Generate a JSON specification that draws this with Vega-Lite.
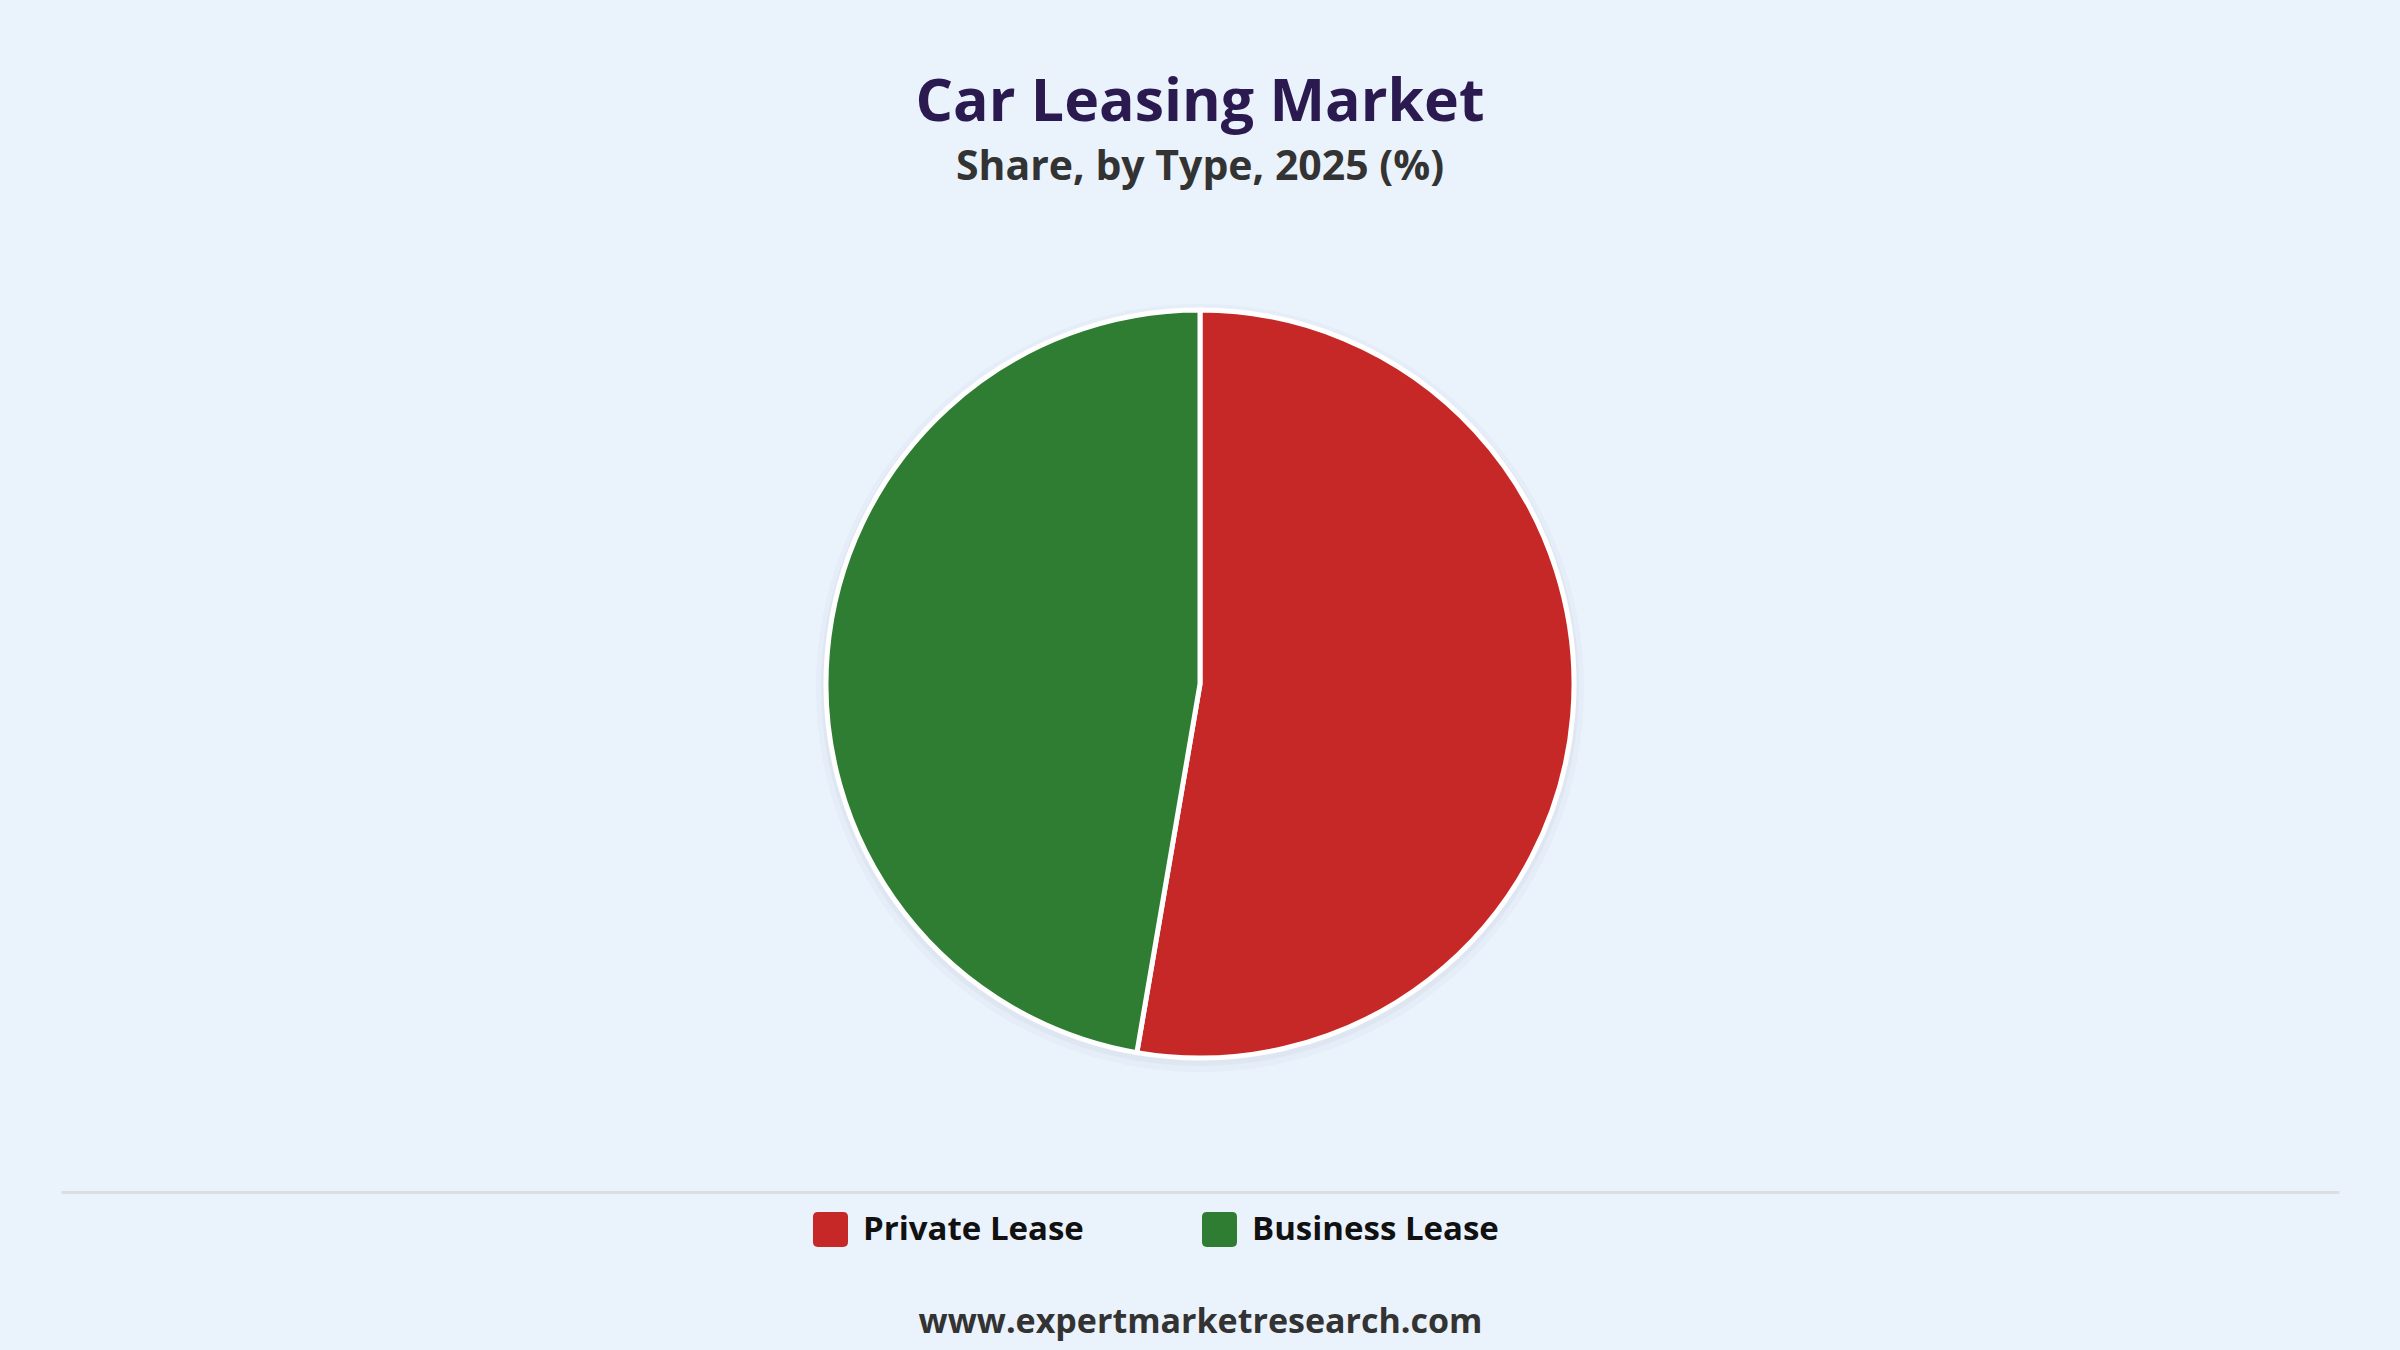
{
  "$schema": "https://vega.github.io/schema/vega-lite/v6.json",
  "description": "Car Leasing Market, share by type, 2025",
  "width": 2278,
  "height": 1016,
  "autosize": {"type": "none"},
  "padding": {"top": 176, "left": 61, "right": 61, "bottom": 158},
  "background": "#EAF2FC",
  "title": {
    "text": "Car Leasing Market",
    "subtitle": "Share, by Type, 2025 (%)",
    "anchor": "middle",
    "font": "Open Sans",
    "fontSize": 59,
    "fontWeight": "bold",
    "color": "#2B1A4F",
    "subtitleFont": "Open Sans",
    "subtitleFontSize": 41,
    "subtitleFontWeight": "bold",
    "subtitleColor": "#333333",
    "subtitlePadding": 15,
    "offset": -12
  },
  "data": {
    "values": [
      {"type": "Private Lease", "share": 52.7},
      {"type": "Business Lease", "share": 47.3}
    ]
  },
  "layer": [
    {
      "mark": {"type": "arc", "outerRadius": 384, "fill": "#8C99AE", "opacity": 0.05, "yOffset": 4},
      "encoding": {"theta": {"field": "share", "type": "quantitative", "stack": true}}
    },
    {
      "mark": {"type": "arc", "outerRadius": 379, "fill": "#8C99AE", "opacity": 0.08, "yOffset": 3},
      "encoding": {"theta": {"field": "share", "type": "quantitative", "stack": true}}
    },
    {
      "mark": {"type": "arc", "outerRadius": 374, "stroke": "#ffffff", "strokeWidth": 5},
      "encoding": {
        "theta": {"field": "share", "type": "quantitative", "stack": true},
        "order": {"field": "share", "sort": "descending"},
        "color": {
          "field": "type",
          "type": "nominal",
          "sort": ["Private Lease", "Business Lease"],
          "scale": {"domain": ["Private Lease", "Business Lease"], "range": ["#C62828", "#2E7D32"]},
          "legend": {
            "orient": "none",
            "legendX": 752,
            "legendY": 1036,
            "direction": "horizontal",
            "columns": 2,
            "title": null,
            "padding": 0,
            "columnPadding": 118,
            "symbolType": "M -0.72 -1 H 0.72 Q 1 -1 1 -0.72 V 0.72 Q 1 1 0.72 1 H -0.72 Q -1 1 -1 0.72 V -0.72 Q -1 -1 -0.72 -1 Z",
            "symbolSize": 1225,
            "symbolStrokeWidth": 0,
            "symbolOpacity": 1,
            "labelFont": "Open Sans",
            "labelFontSize": 33,
            "labelFontWeight": "bold",
            "labelColor": "#111111",
            "labelOffset": 15,
            "labelLimit": 500
          }
        },
        "tooltip": [
          {"field": "type", "type": "nominal", "title": "Type"},
          {"field": "share", "type": "quantitative", "title": "Share (%)"}
        ]
      }
    },
    {
      "data": {"values": [{"p": 0}]},
      "mark": {"type": "point", "opacity": 0},
      "encoding": {
        "x": {
          "field": "p",
          "type": "quantitative",
          "scale": {"domain": [0, 1]},
          "axis": {
            "title": "www.expertmarketresearch.com",
            "labels": false,
            "ticks": false,
            "grid": false,
            "domain": true,
            "domainColor": "#DCDDE0",
            "domainWidth": 3,
            "titleFont": "Open Sans",
            "titleFontSize": 34,
            "titleFontWeight": "bold",
            "titleColor": "#333333",
            "titleBaseline": "alphabetic",
            "titlePadding": 140
          }
        }
      }
    }
  ],
  "config": {
    "view": {"stroke": null}
  }
}
